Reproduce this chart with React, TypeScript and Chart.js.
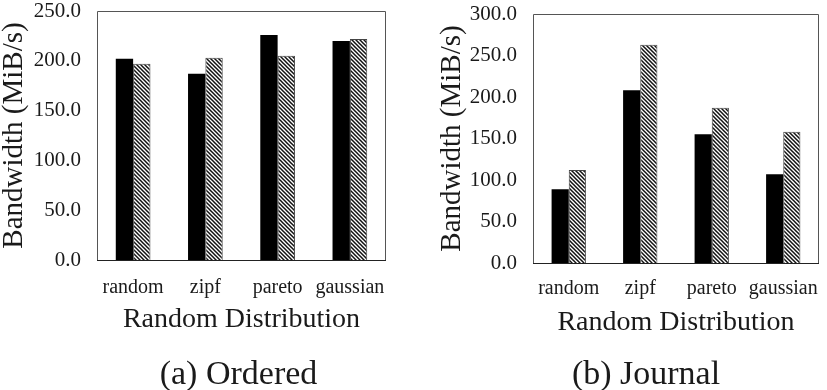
import React, { useEffect, useRef } from "react";
import { Chart, registerables } from "chart.js";

Chart.register(...registerables);

const categories = ["random", "zipf", "pareto", "gaussian"];
const orderedSolid = [202, 187, 226, 220];
const orderedHatched = [197, 203, 205, 222];
const journalSolid = [89, 208, 155, 107];
const journalHatched = [112, 263, 187, 158];
const orderedTicks = [0, 50, 100, 150, 200, 250];
const journalTicks = [0, 50, 100, 150, 200, 250, 300];

const SERIF = "'Liberation Serif', 'Times New Roman', serif";
const TEXT = "#1a1a1a";

function makeHatch(): CanvasPattern | string {
  const t = document.createElement("canvas");
  t.width = 4;
  t.height = 4;
  const c = t.getContext("2d");
  if (!c) return "#888";
  c.fillStyle = "#ffffff";
  c.fillRect(0, 0, 4, 4);
  c.strokeStyle = "#111";
  c.lineWidth = 1.5;
  c.beginPath();
  c.moveTo(-1, -1);
  c.lineTo(5, 5);
  c.moveTo(-1, 3);
  c.lineTo(1, 5);
  c.moveTo(3, -1);
  c.lineTo(5, 1);
  c.stroke();
  const p = c.createPattern(t, "repeat");
  return p || "#888";
}

const boxPlugin = {
  id: "boxPlugin",
  afterDatasetsDraw(chart: any) {
    const { ctx, chartArea } = chart;
    const { left, right, top, bottom } = chartArea;
    ctx.save();
    ctx.strokeStyle = "#555";
    ctx.lineWidth = 1;
    ctx.beginPath();
    ctx.moveTo(left + 0.5, bottom);
    ctx.lineTo(left + 0.5, top + 0.5);
    ctx.lineTo(right - 0.5, top + 0.5);
    ctx.lineTo(right - 0.5, bottom);
    ctx.stroke();
    ctx.strokeStyle = "#222";
    ctx.beginPath();
    ctx.moveTo(left, bottom + 0.5);
    ctx.lineTo(right, bottom + 0.5);
    ctx.stroke();
    ctx.restore();
  },
};

type Cfg = {
  solid: number[];
  hatched: number[];
  ticks: number[];
  padTop: number;
  padRight: number;
  yWidth: number;
  yTitlePad: number;
  xHeight: number;
  xTickPad: number;
  xTitlePadBottom: number;
};

function makeChart(canvas: HTMLCanvasElement, cfg: Cfg) {
  const hatch = makeHatch();
  const max = cfg.ticks[cfg.ticks.length - 1];
  return new Chart(canvas, {
    type: "bar",
    data: {
      labels: categories,
      datasets: [
        {
          data: cfg.solid,
          backgroundColor: "#000000",
          borderWidth: 0,
          categoryPercentage: 0.48,
          barPercentage: 1,
        },
        {
          data: cfg.hatched,
          backgroundColor: hatch as any,
          borderColor: "#444",
          borderWidth: 1,
          categoryPercentage: 0.48,
          barPercentage: 1,
        },
      ],
    },
    options: {
      responsive: false,
      animation: false,
      layout: {
        padding: { top: cfg.padTop, right: cfg.padRight, bottom: 34, left: 0 },
      },
      plugins: {
        legend: { display: false },
        tooltip: { enabled: false },
        title: { display: false },
      },
      scales: {
        x: {
          grid: { display: false, drawTicks: false },
          border: { display: false },
          ticks: {
            color: TEXT,
            padding: cfg.xTickPad,
            autoSkip: false,
            minRotation: 0,
            maxRotation: 0,
            font: { family: SERIF, size: 20 },
          },
          title: {
            display: true,
            text: "Random Distribution",
            color: TEXT,
            font: { family: SERIF, size: 28, lineHeight: 1 },
            padding: { top: 0, bottom: cfg.xTitlePadBottom },
          },
          afterFit(scale: any) {
            scale.height = cfg.xHeight;
            scale.paddingLeft = 0;
            scale.paddingRight = 0;
          },
        },
        y: {
          min: 0,
          max: max,
          grid: { display: false, drawTicks: false },
          border: { display: false },
          afterBuildTicks(scale: any) {
            scale.ticks = cfg.ticks.map((v) => ({ value: v }));
          },
          ticks: {
            color: TEXT,
            padding: 16,
            font: { family: SERIF, size: 21, lineHeight: 1 },
            callback: (v: any) => Number(v).toFixed(1),
          },
          title: {
            display: true,
            text: "Bandwidth (MiB/s)",
            color: TEXT,
            font: { family: SERIF, size: 29, lineHeight: 1 },
            padding: { top: cfg.yTitlePad, bottom: 0 },
          },
          afterFit(scale: any) {
            scale.width = cfg.yWidth;
            scale.paddingTop = 0;
            scale.paddingBottom = 0;
          },
        },
      },
    },
    plugins: [boxPlugin],
  });
}

export default function App() {
  const leftRef = useRef<HTMLCanvasElement>(null);
  const rightRef = useRef<HTMLCanvasElement>(null);

  useEffect(() => {
    if (!leftRef.current || !rightRef.current) return;
    const a = makeChart(leftRef.current, {
      solid: orderedSolid,
      hatched: orderedHatched,
      ticks: orderedTicks,
      padTop: 11,
      padRight: 27,
      yWidth: 97,
      yTitlePad: 0,
      xHeight: 96,
      xTickPad: 16,
      xTitlePadBottom: 22,
    });
    const b = makeChart(rightRef.current, {
      solid: journalSolid,
      hatched: journalHatched,
      ticks: journalTicks,
      padTop: 14,
      padRight: 8,
      yWidth: 120,
      yTitlePad: 24.5,
      xHeight: 93,
      xTickPad: 14,
      xTitlePadBottom: 19,
    });
    return () => {
      a.destroy();
      b.destroy();
    };
  }, []);

  const captionStyle: React.CSSProperties = {
    position: "absolute",
    top: 356,
    width: 300,
    height: 34,
    lineHeight: "34px",
    fontSize: 34,
    fontFamily: SERIF,
    color: TEXT,
    textAlign: "center",
    whiteSpace: "nowrap",
  };

  return (
    <div
      style={{
        position: "fixed",
        left: 0,
        top: 0,
        width: 827,
        height: 390,
        background: "#ffffff",
        overflow: "hidden",
      }}
    >
      <canvas
        ref={leftRef}
        width={413}
        height={390}
        style={{ position: "absolute", left: 0, top: 0, display: "block" }}
      />
      <canvas
        ref={rightRef}
        width={414}
        height={390}
        style={{ position: "absolute", left: 413, top: 0, display: "block" }}
      />
      <div style={{ ...captionStyle, left: 238.5 - 150 }}>(a) Ordered</div>
      <div style={{ ...captionStyle, left: 646 - 150 }}>(b) Journal</div>
    </div>
  );
}
